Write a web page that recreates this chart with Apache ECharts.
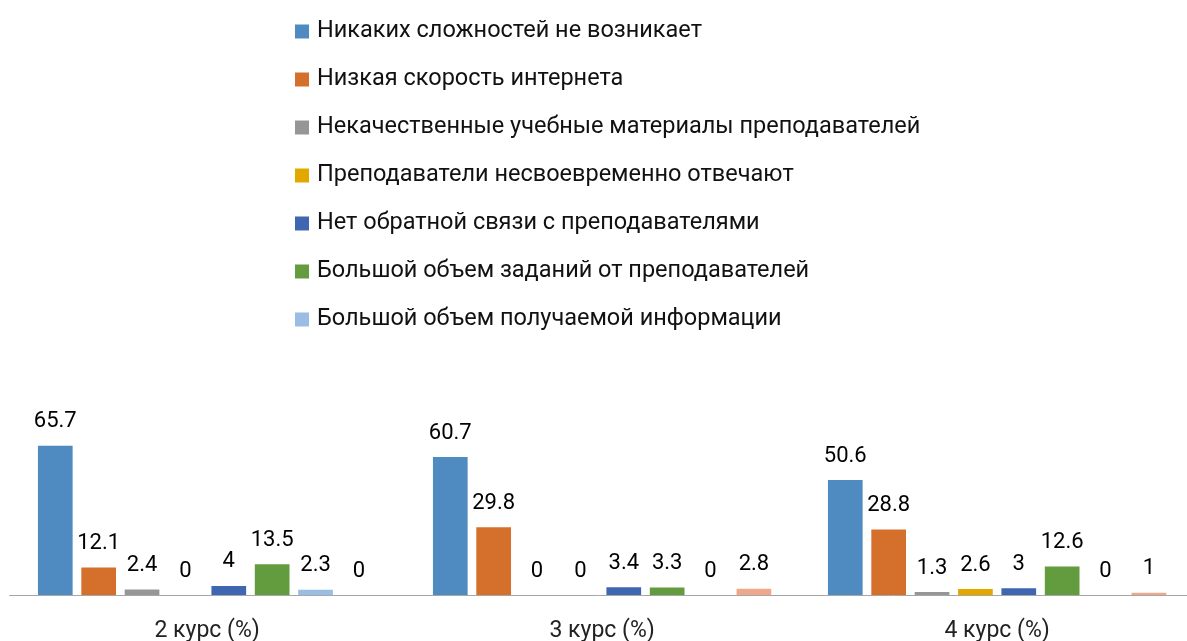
<!DOCTYPE html>
<html>
<head>
<meta charset="utf-8">
<script src="https://cdn.jsdelivr.net/npm/echarts@6/dist/echarts.min.js"></script>
<style>
  html, body { margin: 0; padding: 0; background: #fff; }
  #chart { width: 1187px; height: 641px; }
</style>
</head>
<body>
<div id="chart"></div>
<script>
const categories = ['2 курс (%)', '3 курс (%)', '4 курс (%)']

const seriesNames = [
  'Никаких сложностей не возникает',
  'Низкая скорость интернета',
  'Некачественные учебные материалы преподавателей',
  'Преподаватели несвоевременно отвечают',
  'Нет обратной связи с преподавателями',
  'Большой объем заданий от преподавателей',
  'Большой объем получаемой информации',
  'Другое'
]

const noProblems = [65.7, 60.7, 50.6]
const slowInternet = [12.1, 29.8, 28.8]
const poorMaterials = [2.4, 0, 1.3]
const lateAnswers = [0, 0, 2.6]
const noFeedback = [4, 3.4, 3]
const manyTasks = [13.5, 3.3, 12.6]
const muchInfo = [2.3, 0, 0]
const other = [0, 2.8, 1]

const seriesData = [noProblems, slowInternet, poorMaterials, lateAnswers, noFeedback, manyTasks, muchInfo, other]
const colors = ['#4f8bc0', '#d4702c', '#969696', '#e2a800', '#3f66b0', '#639b3f', '#9abde3', '#f0a88c']

const font = 'Roboto, "Noto Sans", sans-serif'

const chart = echarts.init(document.getElementById('chart'))

chart.setOption({
  animation: false,
  legend: {
    orient: 'vertical',
    left: 290,
    top: 14.5,
    data: seriesNames.slice(0, 7),
    icon: 'rect',
    itemWidth: 14,
    itemHeight: 14,
    itemGap: 24,
    textStyle: {
      fontFamily: font,
      fontSize: 23.5,
      color: '#111',
      lineHeight: 24,
      padding: [0, 0, 0, 3]
    }
  },
  grid: {
    left: 9.6,
    width: 1185,
    top: 436,
    bottom: 46,
    containLabel: false,
    outerBoundsMode: 'none'
  },
  xAxis: {
    type: 'category',
    data: categories,
    axisTick: { show: false },
    axisLine: { lineStyle: { color: '#a6a6a6', width: 1 } },
    axisLabel: {
      fontFamily: font,
      fontSize: 23,
      color: '#222',
      margin: 25
    }
  },
  yAxis: {
    type: 'value',
    min: 0,
    max: 70,
    show: false,
    splitLine: { show: false }
  },
  series: seriesData.map((data, i) => ({
    name: seriesNames[i],
    type: 'bar',
    data: data,
    barGap: '25%',
    barCategoryGap: '14.35%',
    itemStyle: { color: colors[i] },
    label: {
      show: true,
      position: 'top',
      distance: 13,
      fontFamily: font,
      fontSize: 22,
      color: '#000'
    }
  }))
})
</script>
</body>
</html>
